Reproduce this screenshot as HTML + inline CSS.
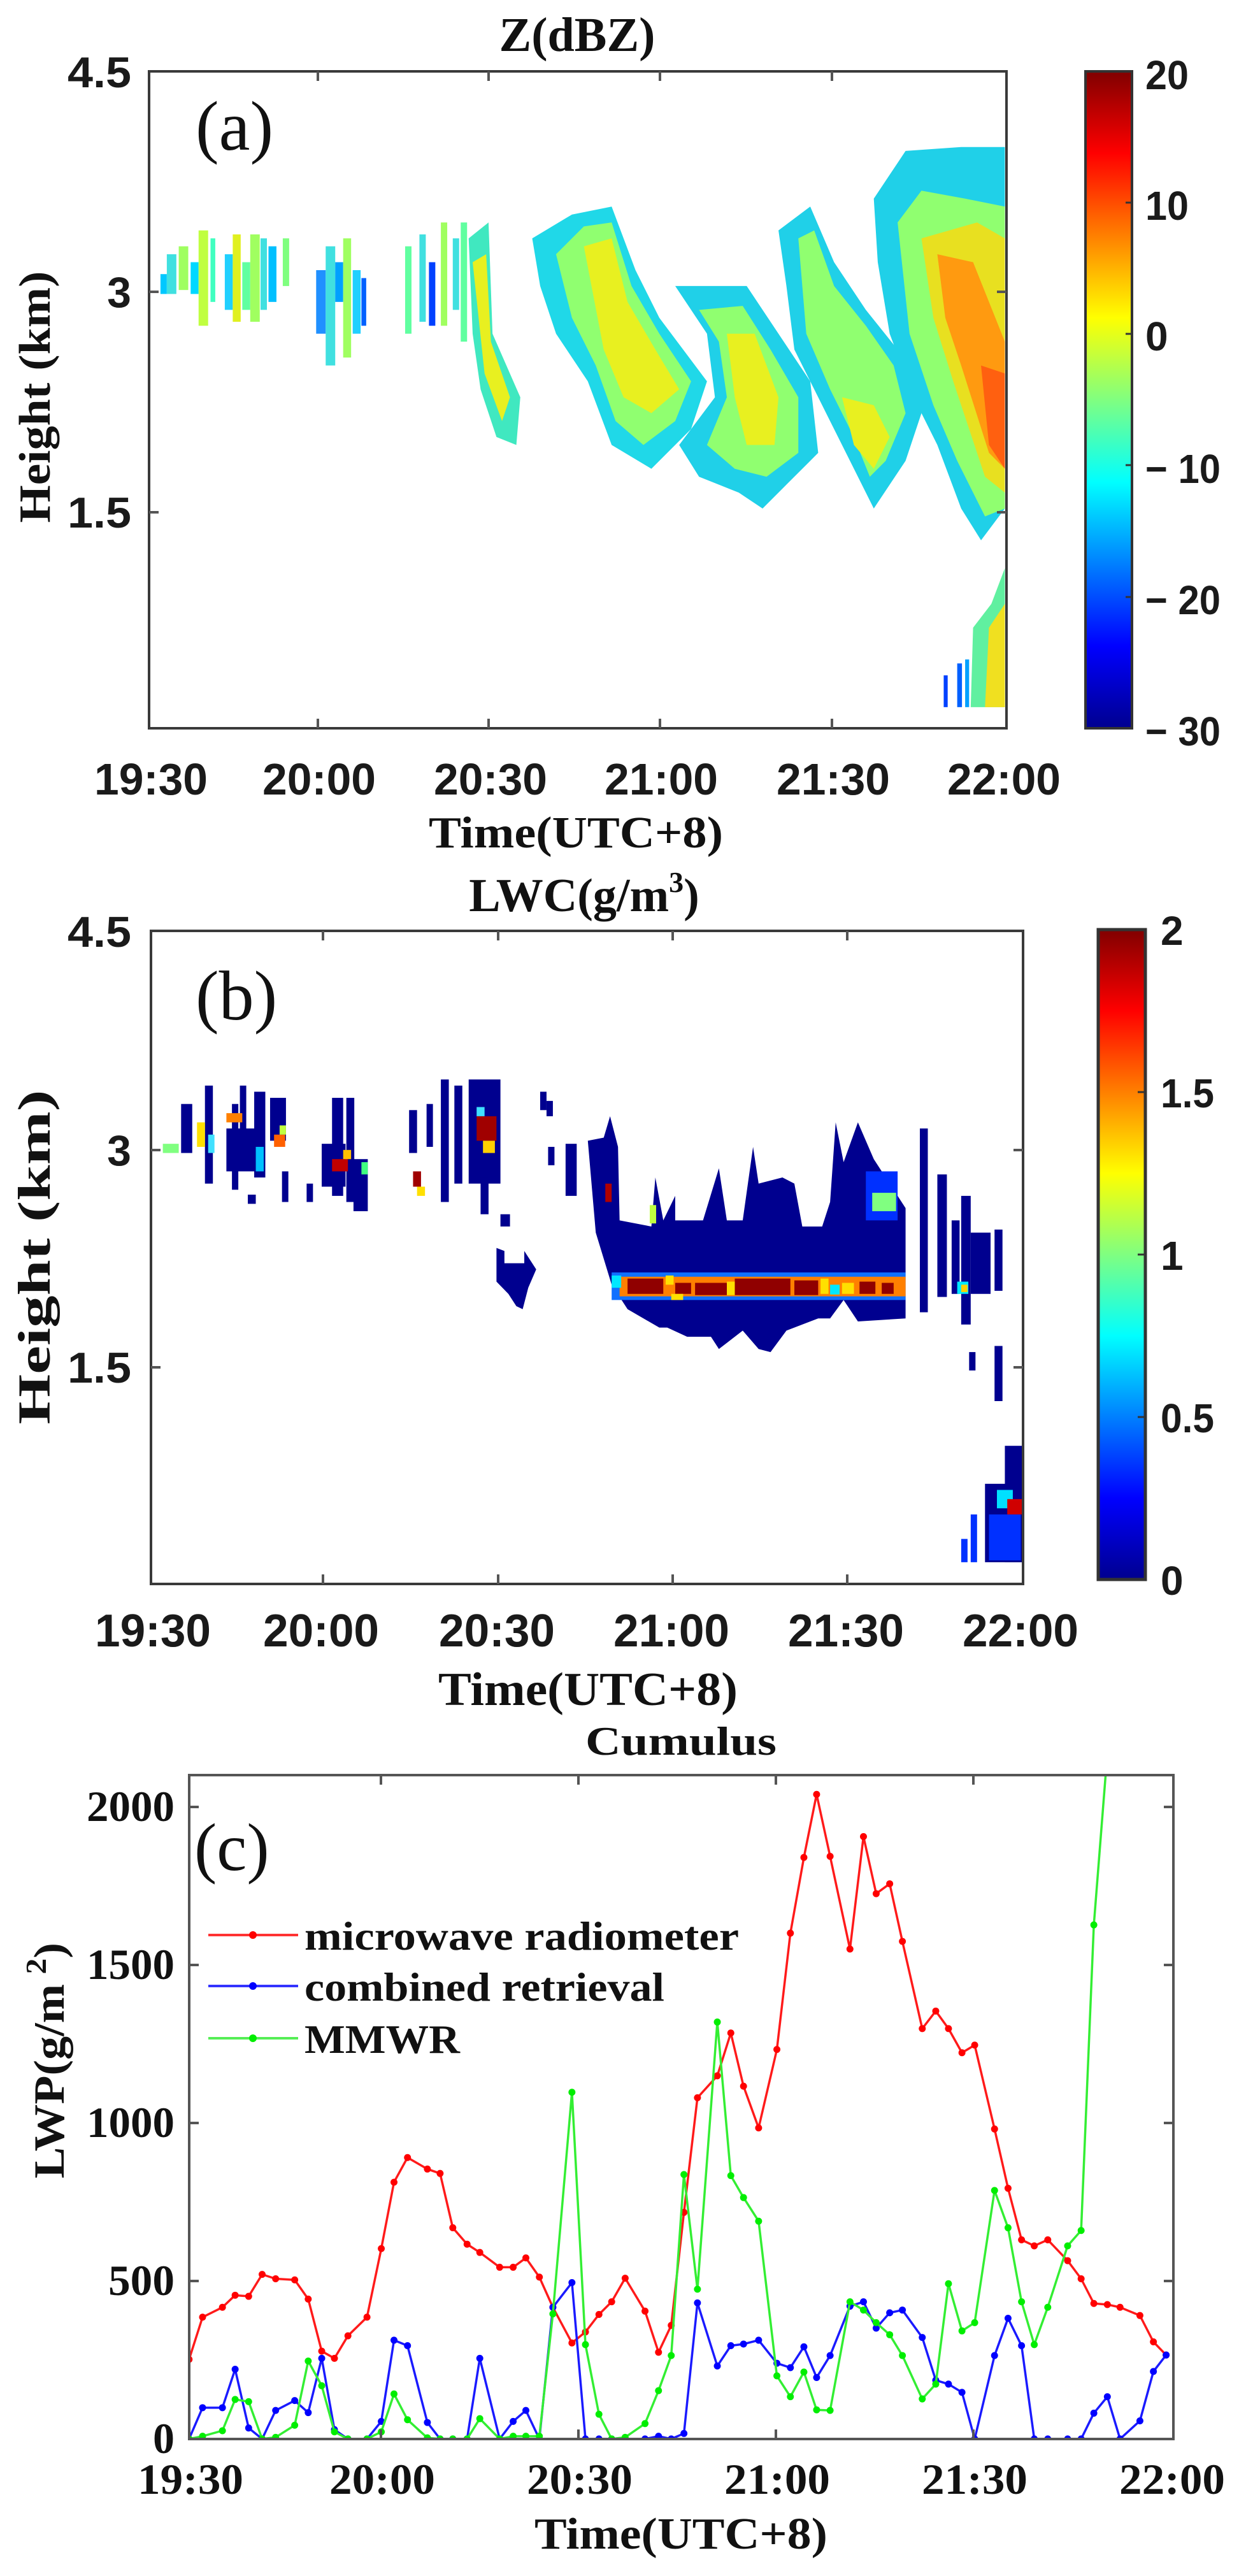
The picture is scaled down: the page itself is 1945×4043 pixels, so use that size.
<!DOCTYPE html>
<html><head><meta charset="utf-8"><style>
html,body{margin:0;padding:0;background:#fff;}
svg{display:block;}
.tk{font-family:"Liberation Sans",sans-serif;font-weight:bold;fill:#1a1a1a;}
.sf{font-family:"Liberation Serif",serif;font-weight:bold;fill:#111;}
</style></head><body>
<svg width="1945" height="4043" viewBox="0 0 1945 4043" xmlns="http://www.w3.org/2000/svg">
<defs>
<linearGradient id="jet" x1="0" y1="1" x2="0" y2="0">
<stop offset="0" stop-color="#00008f"/>
<stop offset="0.125" stop-color="#0000ff"/>
<stop offset="0.375" stop-color="#00ffff"/>
<stop offset="0.5" stop-color="#80ff80"/>
<stop offset="0.625" stop-color="#ffff00"/>
<stop offset="0.875" stop-color="#ff0000"/>
<stop offset="1" stop-color="#800000"/>
</linearGradient>
<clipPath id="ca"><rect x="234" y="112" width="1346" height="1031"/></clipPath>
<clipPath id="cc"><rect x="297" y="2786" width="1545" height="1042"/></clipPath>
<marker id="mr" markerUnits="userSpaceOnUse" markerWidth="20" markerHeight="20" refX="10" refY="10" viewBox="0 0 20 20" overflow="visible"><ellipse cx="10" cy="10" rx="4.4" ry="6.4" fill="#ff0000"/></marker>
<marker id="mb" markerUnits="userSpaceOnUse" markerWidth="20" markerHeight="20" refX="10" refY="10" viewBox="0 0 20 20" overflow="visible"><ellipse cx="10" cy="10" rx="4.4" ry="6.4" fill="#0000ff"/></marker>
<marker id="mg" markerUnits="userSpaceOnUse" markerWidth="20" markerHeight="20" refX="10" refY="10" viewBox="0 0 20 20" overflow="visible"><ellipse cx="10" cy="10" rx="4.4" ry="6.4" fill="#00ee00"/></marker>
</defs>

<!-- ============ PANEL A ============ -->
<text x="906" y="80" text-anchor="middle" class="sf" font-size="76">Z(dBZ)</text>
<g clip-path="url(#ca)">
<g transform="scale(1.247)">
 <g fill="#40e0e0">
  <rect x="202" y="345" width="8" height="25" fill="#00c8ff"/>
  <rect x="210" y="320" width="12" height="50"/>
  <rect x="225" y="310" width="12" height="55" fill="#9fff60"/>
  <rect x="240" y="330" width="10" height="40" fill="#00d8ff"/>
  <rect x="250" y="290" width="12" height="120" fill="#c0ff40"/>
  <rect x="265" y="300" width="6" height="80" fill="#40ffc0"/>
  <rect x="283" y="320" width="10" height="70" fill="#20d0ff"/>
  <rect x="293" y="295" width="10" height="110" fill="#e0f020"/>
  <rect x="305" y="330" width="10" height="60" fill="#60ffa0"/>
  <rect x="315" y="295" width="12" height="110" fill="#a0ff60"/>
  <rect x="328" y="300" width="8" height="90" fill="#40e0e0"/>
  <rect x="338" y="310" width="10" height="70" fill="#00c0ff"/>
  <rect x="356" y="300" width="8" height="60" fill="#80ff80"/>
  <rect x="398" y="340" width="12" height="80" fill="#2090ff"/>
  <rect x="410" y="310" width="12" height="150" fill="#40e0e0"/>
  <rect x="422" y="330" width="10" height="50" fill="#00a0ff"/>
  <rect x="432" y="300" width="10" height="150" fill="#a0ff60"/>
  <rect x="444" y="340" width="10" height="80" fill="#20d0ff"/>
  <rect x="455" y="350" width="6" height="60" fill="#0060ff"/>
  <rect x="510" y="310" width="8" height="110" fill="#60ffa0"/>
  <rect x="528" y="295" width="8" height="110" fill="#40e0e0"/>
  <rect x="540" y="330" width="8" height="80" fill="#0040ff"/>
  <rect x="555" y="280" width="8" height="130" fill="#a0ff60"/>
  <rect x="570" y="300" width="8" height="90" fill="#40e0e0"/>
  <rect x="580" y="280" width="8" height="150" fill="#60ffa0"/>
 </g>
 <polygon points="590,300 615,280 620,420 655,500 650,560 625,550 605,490 595,420" fill="#40e8c0"/>
 <polygon points="595,330 612,320 618,430 642,500 632,530 610,470" fill="#e8f020"/>
 <polygon points="670,300 720,270 770,260 800,340 830,400 890,480 870,540 820,590 770,560 740,480 700,420 680,360" fill="#20d8e8"/>
 <polygon points="700,320 735,285 770,280 795,360 830,420 870,480 850,530 810,560 775,530 750,460 720,400" fill="#90ff70"/>
 <polygon points="735,310 770,300 790,380 825,440 855,490 820,520 785,500 760,440" fill="#e8f020"/>
 <polygon points="850,360 940,360 980,420 1020,480 1030,570 990,610 960,640 930,620 880,600 855,560 900,500 890,420" fill="#20d0e8"/>
 <polygon points="880,390 935,385 970,440 1005,500 1005,570 965,600 925,590 890,560 915,500 905,430" fill="#90ff70"/>
 <polygon points="915,420 950,420 980,500 975,560 940,560 925,500" fill="#e8f020"/>
 <polygon points="980,290 1020,260 1050,330 1090,390 1130,440 1160,520 1140,580 1100,640 1070,580 1040,520 1000,440 990,360" fill="#20d0e8"/>
 <polygon points="1005,300 1025,290 1050,360 1090,410 1125,460 1140,520 1115,580 1095,600 1075,550 1045,490 1015,420" fill="#90ff70"/>
 <polygon points="1060,500 1100,510 1120,550 1100,590 1075,560" fill="#e8f020"/>
 <polygon points="1100,250 1140,190 1210,185 1265,185 1265,640 1235,680 1210,640 1180,560 1150,500 1120,420 1105,330" fill="#20d0e8"/>
 <polygon points="1130,280 1160,240 1215,250 1265,260 1265,640 1240,650 1205,580 1175,510 1145,420" fill="#90ff70"/>
 <polygon points="1160,300 1230,280 1265,300 1265,620 1240,600 1200,480 1175,400" fill="#e8e020"/>
 <polygon points="1180,320 1225,330 1265,430 1265,590 1245,570 1210,460 1190,400" fill="#ff9a10"/>
 <polygon points="1235,460 1265,470 1265,590 1245,560" fill="#ff6010"/>
 <polygon points="1225,790 1248,760 1265,715 1265,890 1222,890" fill="#60f0a0"/>
 <polygon points="1245,790 1265,760 1265,890 1240,890" fill="#f0e020"/>
 <rect x="1188" y="850" width="5" height="40" fill="#0040ff"/>
 <rect x="1205" y="835" width="6" height="55" fill="#0060ff"/>
 <rect x="1215" y="830" width="5" height="60" fill="#00a0ff"/>
</g>
</g>
<rect x="234" y="112" width="1346" height="1031" fill="none" stroke="#3a3a3a" stroke-width="4"/>
<g stroke="#555" stroke-width="4">
 <line x1="499" y1="1143" x2="499" y2="1128"/><line x1="767" y1="1143" x2="767" y2="1128"/><line x1="1036" y1="1143" x2="1036" y2="1128"/><line x1="1306" y1="1143" x2="1306" y2="1128"/>
 <line x1="499" y1="112" x2="499" y2="127"/><line x1="767" y1="112" x2="767" y2="127"/><line x1="1036" y1="112" x2="1036" y2="127"/><line x1="1306" y1="112" x2="1306" y2="127"/>
 <line x1="234" y1="458" x2="249" y2="458"/><line x1="234" y1="804" x2="249" y2="804"/>
 <line x1="1580" y1="458" x2="1565" y2="458"/><line x1="1580" y1="804" x2="1565" y2="804"/>
</g>
<g class="tk" font-size="68" text-anchor="end">
 <text x="206" y="137" textLength="100" lengthAdjust="spacingAndGlyphs">4.5</text>
 <text x="206" y="482">3</text>
 <text x="206" y="828" textLength="100" lengthAdjust="spacingAndGlyphs">1.5</text>
</g>
<g class="tk" font-size="70" text-anchor="middle">
 <text x="237" y="1247" textLength="178" lengthAdjust="spacingAndGlyphs">19:30</text>
 <text x="501" y="1247" textLength="178" lengthAdjust="spacingAndGlyphs">20:00</text>
 <text x="770" y="1247" textLength="178" lengthAdjust="spacingAndGlyphs">20:30</text>
 <text x="1038" y="1247" textLength="178" lengthAdjust="spacingAndGlyphs">21:00</text>
 <text x="1308" y="1247" textLength="178" lengthAdjust="spacingAndGlyphs">21:30</text>
 <text x="1576" y="1247" textLength="178" lengthAdjust="spacingAndGlyphs">22:00</text>
</g>
<text x="904" y="1330" text-anchor="middle" class="sf" font-size="70" textLength="462" lengthAdjust="spacingAndGlyphs">Time(UTC+8)</text>
<text transform="translate(78,623) rotate(-90)" text-anchor="middle" class="sf" font-size="70" textLength="395" lengthAdjust="spacingAndGlyphs">Height (km)</text>
<rect x="1704" y="112" width="73" height="1031" fill="url(#jet)" stroke="#333" stroke-width="4"/>
<g stroke="#333" stroke-width="3"><line x1="1767" y1="318" x2="1777" y2="318"/><line x1="1767" y1="524" x2="1777" y2="524"/><line x1="1767" y1="730" x2="1777" y2="730"/><line x1="1767" y1="937" x2="1777" y2="937"/></g>
<g class="tk" font-size="64">
 <text x="1798" y="140" textLength="68" lengthAdjust="spacingAndGlyphs">20</text>
 <text x="1798" y="345" textLength="68" lengthAdjust="spacingAndGlyphs">10</text>
 <text x="1798" y="550">0</text>
 <text x="1798" y="758" textLength="118" lengthAdjust="spacingAndGlyphs">− 10</text>
 <text x="1798" y="964" textLength="118" lengthAdjust="spacingAndGlyphs">− 20</text>
 <text x="1798" y="1170" textLength="118" lengthAdjust="spacingAndGlyphs">− 30</text>
</g>
<text x="307" y="235" font-family="Liberation Serif,serif" font-size="110" fill="#111">(a)</text>

<!-- ============ PANEL B ============ -->
<text x="917" y="1430" text-anchor="middle" class="sf" font-size="74">LWC(g/m<tspan dy="-30" font-size="46">3</tspan><tspan dy="30">)</tspan></text>
<g transform="translate(0,1300) scale(1.247,0.9615)">
 <g fill="#00008f">
  <rect x="228" y="450" width="14" height="80"/><rect x="258" y="420" width="10" height="160"/>
  <rect x="285" y="490" width="40" height="70"/><rect x="292" y="450" width="8" height="140"/>
  <rect x="302" y="420" width="8" height="80"/><rect x="320" y="430" width="14" height="140"/>
  <rect x="340" y="440" width="20" height="70"/><rect x="355" y="560" width="8" height="50"/>
  <rect x="312" y="598" width="10" height="15"/><rect x="386" y="580" width="8" height="30"/>
  <rect x="405" y="515" width="30" height="70"/><rect x="418" y="440" width="14" height="160"/>
  <rect x="436" y="440" width="10" height="170"/><rect x="445" y="540" width="18" height="85"/>
  <rect x="515" y="460" width="10" height="70"/><rect x="537" y="450" width="8" height="70"/>
  <rect x="555" y="410" width="10" height="200"/><rect x="572" y="420" width="10" height="160"/>
  <rect x="590" y="410" width="40" height="170"/><rect x="605" y="570" width="10" height="60"/>
  <rect x="630" y="630" width="12" height="20"/>
  <polygon points="625,685 635,690 635,710 660,710 660,690 675,720 665,750 658,785 650,780 640,760 625,740"/>
  <rect x="680" y="430" width="8" height="30"/><rect x="688" y="445" width="8" height="25"/>
  <rect x="690" y="520" width="8" height="30"/><rect x="712" y="515" width="14" height="85"/>
  <polygon points="740,510 760,505 768,470 778,520 780,640 820,650 825,570 835,640 850,600 850,640 885,640 905,555 915,640 935,640 948,520 955,580 985,570 1000,580 1010,650 1035,650 1045,610 1052,480 1062,545 1080,480 1100,540 1140,620 1140,800 1080,805 1062,770 1045,800 1030,800 990,820 970,855 955,850 935,820 905,850 895,830 865,830 840,815 830,815 790,785 770,745 750,660"/>
  <rect x="1158" y="490" width="10" height="300"/><rect x="1180" y="565" width="12" height="200"/>
  <rect x="1198" y="640" width="10" height="120"/><rect x="1210" y="600" width="12" height="210"/>
  <rect x="1222" y="660" width="25" height="100"/><rect x="1252" y="655" width="10" height="100"/>
  <rect x="1220" y="855" width="8" height="30"/><rect x="1252" y="845" width="10" height="90"/>
  <rect x="1265" y="1008" width="23" height="190"/><rect x="1240" y="1070" width="48" height="128"/>
 </g>
 <g fill="#0030ff"><rect x="1210" y="1160" width="8" height="38"/><rect x="1222" y="1120" width="8" height="78"/><rect x="1245" y="1120" width="40" height="75"/><rect x="1090" y="560" width="40" height="80"/></g>
 <g fill="#80ff80"><rect x="1098" y="595" width="30" height="30"/><rect x="205" y="515" width="20" height="15"/></g>
 <rect x="1255" y="1080" width="20" height="30" fill="#00e0ff"/>
 <rect x="1268" y="1095" width="20" height="25" fill="#d00000"/>
 <g>
  <rect x="248" y="480" width="10" height="40" fill="#ffe000"/><rect x="262" y="500" width="8" height="30" fill="#40e0ff"/>
  <rect x="285" y="465" width="20" height="15" fill="#ff8000"/><rect x="322" y="520" width="10" height="40" fill="#00c0ff"/>
  <rect x="345" y="500" width="14" height="20" fill="#ff6000"/><rect x="352" y="485" width="8" height="15" fill="#c0ff40"/>
  <rect x="418" y="540" width="20" height="20" fill="#c00000"/><rect x="432" y="525" width="10" height="15" fill="#ffc000"/>
  <rect x="455" y="545" width="8" height="20" fill="#40ff80"/><rect x="520" y="560" width="10" height="25" fill="#a00000"/>
  <rect x="525" y="585" width="10" height="15" fill="#ffe000"/>
  <rect x="600" y="470" width="25" height="40" fill="#a00000"/><rect x="608" y="510" width="15" height="20" fill="#ffd000"/>
  <rect x="600" y="455" width="10" height="15" fill="#40e0ff"/><rect x="762" y="580" width="8" height="30" fill="#b00000"/>
  <rect x="818" y="615" width="8" height="30" fill="#c0ff40"/>
 </g>
 <rect x="770" y="725" width="370" height="45" fill="#1070ff"/>
 <rect x="780" y="732" width="360" height="32" fill="#ff8000"/>
 <g fill="#900000">
  <rect x="790" y="735" width="45" height="25"/><rect x="850" y="742" width="20" height="18"/>
  <rect x="875" y="742" width="40" height="20"/><rect x="925" y="735" width="70" height="27"/>
  <rect x="1000" y="738" width="30" height="24"/><rect x="1082" y="740" width="20" height="20"/>
  <rect x="1110" y="742" width="15" height="18"/>
 </g>
 <g fill="#ffe000"><rect x="838" y="730" width="10" height="15"/><rect x="915" y="740" width="10" height="22"/><rect x="1033" y="735" width="10" height="25"/><rect x="1060" y="742" width="15" height="18"/><rect x="845" y="760" width="15" height="10"/></g>
 <g fill="#00e8ff"><rect x="770" y="730" width="12" height="20"/><rect x="1045" y="745" width="12" height="16"/><rect x="1205" y="740" width="14" height="20"/></g>
 <rect x="1210" y="745" width="8" height="12" fill="#ffd000"/>
</g>
<rect x="237" y="1461" width="1369" height="1025" fill="none" stroke="#3a3a3a" stroke-width="4"/>
<g stroke="#555" stroke-width="4">
 <line x1="507" y1="2486" x2="507" y2="2471"/><line x1="782" y1="2486" x2="782" y2="2471"/><line x1="1056" y1="2486" x2="1056" y2="2471"/><line x1="1330" y1="2486" x2="1330" y2="2471"/>
 <line x1="507" y1="1461" x2="507" y2="1476"/><line x1="782" y1="1461" x2="782" y2="1476"/><line x1="1056" y1="1461" x2="1056" y2="1476"/><line x1="1330" y1="1461" x2="1330" y2="1476"/>
 <line x1="237" y1="1805" x2="252" y2="1805"/><line x1="237" y1="2146" x2="252" y2="2146"/>
 <line x1="1606" y1="1805" x2="1591" y2="1805"/><line x1="1606" y1="2146" x2="1591" y2="2146"/>
</g>
<g class="tk" font-size="68" text-anchor="end">
 <text x="206" y="1486" textLength="100" lengthAdjust="spacingAndGlyphs">4.5</text>
 <text x="206" y="1829">3</text>
 <text x="206" y="2170" textLength="100" lengthAdjust="spacingAndGlyphs">1.5</text>
</g>
<g class="tk" font-size="72" text-anchor="middle">
 <text x="240" y="2584" textLength="182" lengthAdjust="spacingAndGlyphs">19:30</text>
 <text x="504" y="2584" textLength="182" lengthAdjust="spacingAndGlyphs">20:00</text>
 <text x="780" y="2584" textLength="182" lengthAdjust="spacingAndGlyphs">20:30</text>
 <text x="1054" y="2584" textLength="182" lengthAdjust="spacingAndGlyphs">21:00</text>
 <text x="1328" y="2584" textLength="182" lengthAdjust="spacingAndGlyphs">21:30</text>
 <text x="1602" y="2584" textLength="182" lengthAdjust="spacingAndGlyphs">22:00</text>
</g>
<text x="923" y="2676" text-anchor="middle" class="sf" font-size="74" textLength="470" lengthAdjust="spacingAndGlyphs">Time(UTC+8)</text>
<text transform="translate(78,1973) rotate(-90)" text-anchor="middle" class="sf" font-size="72" textLength="525" lengthAdjust="spacingAndGlyphs">Height (km)</text>
<rect x="1724" y="1459" width="74" height="1020" fill="url(#jet)" stroke="#333" stroke-width="5"/>
<g stroke="#333" stroke-width="3"><line x1="1786" y1="1714" x2="1797" y2="1714"/><line x1="1786" y1="1969" x2="1797" y2="1969"/><line x1="1786" y1="2224" x2="1797" y2="2224"/></g>
<g class="tk" font-size="64">
 <text x="1822" y="1483">2</text>
 <text x="1822" y="1738" textLength="84" lengthAdjust="spacingAndGlyphs">1.5</text>
 <text x="1822" y="1993">1</text>
 <text x="1822" y="2248" textLength="84" lengthAdjust="spacingAndGlyphs">0.5</text>
 <text x="1822" y="2503">0</text>
</g>
<text x="307" y="1600" font-family="Liberation Serif,serif" font-size="110" fill="#111">(b)</text>

<!-- ============ PANEL C ============ -->
<text x="1069" y="2754" text-anchor="middle" class="sf" font-size="64" textLength="300" lengthAdjust="spacingAndGlyphs">Cumulus</text>
<g clip-path="url(#cc)">
<g transform="translate(0,2700) scale(1.247,0.861)" fill="none" stroke-width="3.5" stroke-linejoin="round">
<polyline vector-effect="non-scaling-stroke" stroke="#ff1a1a" marker-start="url(#mr)" marker-mid="url(#mr)" marker-end="url(#mr)" points="238,1165 255,1088 280,1070 296,1048 313,1050 330,1010 347,1018 371,1020 388,1055 405,1150 421,1163 438,1122 462,1088 480,963 496,842 513,797 538,818 554,826 570,925 588,955 604,970 629,997 646,997 662,980 679,1015 696,1070 720,1135 737,1115 754,1083 770,1060 787,1017 812,1077 829,1152 845,1103 861,897 878,688 903,648 920,570 936,667 955,743 978,600 995,388 1012,250 1028,135 1045,248 1070,417 1087,212 1103,316 1120,298 1136,403 1161,562 1178,530 1194,562 1211,606 1227,592 1252,745 1269,853 1286,947 1302,958 1319,947 1344,985 1361,1018 1377,1063 1394,1065 1410,1070 1435,1085 1452,1133 1468,1157"/>
<polyline vector-effect="non-scaling-stroke" stroke="#1a1aff" marker-start="url(#mb)" marker-mid="url(#mb)" marker-end="url(#mb)" points="238,1310 255,1253 280,1253 296,1183 313,1290 330,1310 347,1258 371,1240 388,1262 405,1163 421,1293 438,1310 462,1310 480,1278 496,1130 513,1140 538,1280 554,1310 570,1310 588,1310 604,1163 629,1310 646,1278 662,1258 679,1310 696,1070 720,1025 737,1310 754,1310 770,1310 787,1310 812,1310 829,1305 845,1310 861,1300 878,1062 903,1177 920,1140 936,1137 955,1130 978,1172 995,1180 1012,1142 1028,1198 1045,1158 1070,1068 1087,1060 1103,1108 1120,1080 1136,1075 1161,1125 1178,1203 1194,1210 1211,1225 1227,1310 1252,1158 1269,1090 1286,1140 1302,1310 1319,1310 1344,1310 1361,1310 1377,1263 1394,1233 1410,1310 1435,1277 1452,1187 1468,1157"/>
<polyline vector-effect="non-scaling-stroke" stroke="#33ee33" marker-start="url(#mg)" marker-mid="url(#mg)" points="238,1310 255,1305 280,1295 296,1238 313,1242 330,1310 347,1307 371,1285 388,1168 405,1213 421,1297 438,1310 462,1310 480,1297 496,1228 513,1275 538,1308 554,1310 570,1310 588,1310 604,1273 629,1310 646,1305 662,1305 679,1305 696,1082 720,678 737,1138 754,1265 770,1310 787,1307 812,1282 829,1222 845,1158 861,828 878,1037 903,550 920,830 936,870 955,913 978,1195 995,1233 1012,1188 1028,1257 1045,1258 1070,1060 1087,1075 1103,1098 1120,1120 1136,1158 1161,1237 1178,1210 1194,1027 1211,1113 1227,1098 1252,857 1269,925 1286,1060 1302,1138 1319,1070 1344,958 1361,930 1377,373 1394,60"/>
</g>
</g>
<rect x="297" y="2786" width="1545" height="1042" fill="none" stroke="#555" stroke-width="4"/>
<g stroke="#555" stroke-width="4">
 <line x1="598" y1="3828" x2="598" y2="3813"/><line x1="908" y1="3828" x2="908" y2="3813"/><line x1="1218" y1="3828" x2="1218" y2="3813"/><line x1="1528" y1="3828" x2="1528" y2="3813"/>
 <line x1="598" y1="2786" x2="598" y2="2801"/><line x1="908" y1="2786" x2="908" y2="2801"/><line x1="1218" y1="2786" x2="1218" y2="2801"/><line x1="1528" y1="2786" x2="1528" y2="2801"/>
 <line x1="297" y1="2836" x2="312" y2="2836"/><line x1="297" y1="3084" x2="312" y2="3084"/><line x1="297" y1="3332" x2="312" y2="3332"/><line x1="297" y1="3580" x2="312" y2="3580"/>
 <line x1="1842" y1="2836" x2="1827" y2="2836"/><line x1="1842" y1="3084" x2="1827" y2="3084"/><line x1="1842" y1="3332" x2="1827" y2="3332"/><line x1="1842" y1="3580" x2="1827" y2="3580"/>
</g>
<g class="sf" font-size="68" text-anchor="end">
 <text x="274" y="2858" textLength="138" lengthAdjust="spacingAndGlyphs">2000</text>
 <text x="274" y="3106" textLength="138" lengthAdjust="spacingAndGlyphs">1500</text>
 <text x="274" y="3354" textLength="138" lengthAdjust="spacingAndGlyphs">1000</text>
 <text x="274" y="3602" textLength="104" lengthAdjust="spacingAndGlyphs">500</text>
 <text x="274" y="3850">0</text>
</g>
<g class="sf" font-size="68" text-anchor="middle">
 <text x="299" y="3914" textLength="166" lengthAdjust="spacingAndGlyphs">19:30</text>
 <text x="600" y="3914" textLength="166" lengthAdjust="spacingAndGlyphs">20:00</text>
 <text x="910" y="3914" textLength="166" lengthAdjust="spacingAndGlyphs">20:30</text>
 <text x="1220" y="3914" textLength="166" lengthAdjust="spacingAndGlyphs">21:00</text>
 <text x="1530" y="3914" textLength="166" lengthAdjust="spacingAndGlyphs">21:30</text>
 <text x="1840" y="3914" textLength="166" lengthAdjust="spacingAndGlyphs">22:00</text>
</g>
<text x="1069" y="4000" text-anchor="middle" class="sf" font-size="70" textLength="460" lengthAdjust="spacingAndGlyphs">Time(UTC+8)</text>
<text transform="translate(100,3234) rotate(-90)" text-anchor="middle" class="sf" font-size="68" textLength="370" lengthAdjust="spacingAndGlyphs">LWP(g/m<tspan dx="14" dy="-28" font-size="46">2</tspan><tspan dy="28">)</tspan></text>
<text x="305" y="2935" font-family="Liberation Serif,serif" font-size="106" fill="#111">(c)</text>
<g stroke-width="4">
 <line x1="327" y1="3037" x2="468" y2="3037" stroke="#ff3333"/><circle cx="397" cy="3037" r="6" fill="#ff0000"/>
 <line x1="327" y1="3117" x2="468" y2="3117" stroke="#3333ff"/><circle cx="397" cy="3117" r="6" fill="#0000ff"/>
 <line x1="327" y1="3199" x2="468" y2="3199" stroke="#55ee55"/><circle cx="397" cy="3199" r="6" fill="#00ee00"/>
</g>
<g class="sf" font-size="64">
 <text x="478" y="3060" textLength="682" lengthAdjust="spacingAndGlyphs">microwave radiometer</text>
 <text x="478" y="3140" textLength="565" lengthAdjust="spacingAndGlyphs">combined retrieval</text>
 <text x="478" y="3222" textLength="244" lengthAdjust="spacingAndGlyphs">MMWR</text>
</g>
</svg>
</body></html>
